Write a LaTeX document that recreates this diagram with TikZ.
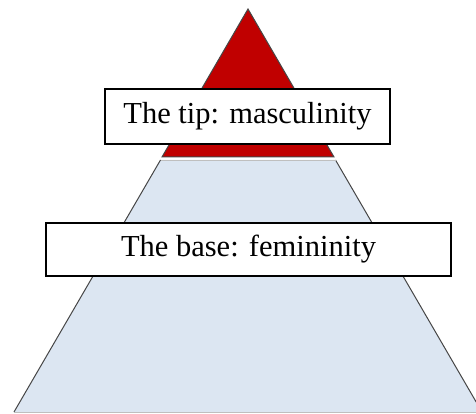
\documentclass[tikz,border=0pt]{standalone}
\usepackage{xcolor}
\usepackage{fontspec}
\setmainfont{Liberation Serif}
\usepackage{tikz}
\definecolor{tipcolor}{RGB}{192, 0, 0}
\definecolor{basecolor}{RGB}{220, 230, 242}
\definecolor{edgecolor}{RGB}{70, 70, 70}
\usetikzlibrary{positioning}

\begin{document}
\begin{tikzpicture}[
    x=1pt, y=-1pt,
    labelbox/.style={rectangle, draw=black, line width=1.2pt, fill=white, inner sep=0pt, font=\fontsize{30.5}{36}\selectfont, align=center}
]
    \useasboundingbox (0, 0) rectangle (476, 414);
    % pyramid layers
    \fill[basecolor] (160.5, 160) -- (335.5, 160) -- (482, 412) -- (14, 412) -- cycle;
    \draw[edgecolor, line width=1pt] (160.5, 160) -- (14, 412);
    \draw[edgecolor, line width=1pt] (335.5, 160) -- (482, 412);
    \draw[black!25, line width=1pt] (14, 412) -- (482, 412);
    \draw[black!25, line width=0.8pt] (160.5, 160) -- (335.5, 160);
    \filldraw[fill=tipcolor, draw=edgecolor, line width=1pt] (248, 9) -- (334, 157) -- (162, 157) -- cycle;

    \node[labelbox, minimum width=285pt, minimum height=55pt] (tip) at (247.5, 116.5) {The tip: masculinity};
    \node[labelbox, minimum width=405pt, minimum height=53pt] (base) at (248.5, 249.5) {The base: femininity};
\end{tikzpicture}
\end{document}
